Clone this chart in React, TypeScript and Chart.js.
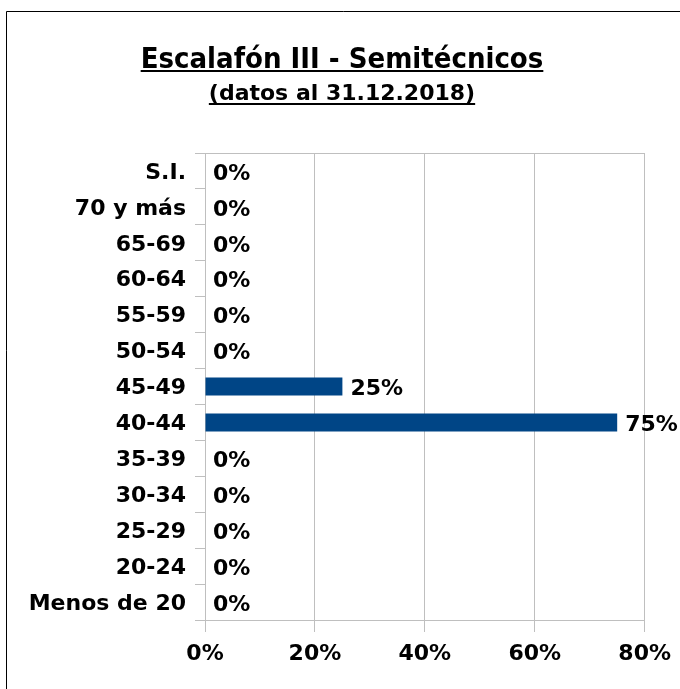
import React, { useEffect, useRef } from "react";
import { Chart, registerables } from "chart.js";

Chart.register(...registerables);

const categories = [
  "S.I.",
  "70 y más",
  "65-69",
  "60-64",
  "55-59",
  "50-54",
  "45-49",
  "40-44",
  "35-39",
  "30-34",
  "25-29",
  "20-24",
  "Menos de 20",
];
const values = [0, 0, 0, 0, 0, 0, 25, 75, 0, 0, 0, 0, 0];
const xMin = 0;
const xMax = 80;
const xStep = 20;
const titleText = "Escalafón III - Semitécnicos";
const subtitleText = "(datos al 31.12.2018)";

const GRID = "#bfbfbf";
const BAR = "#004586";
const LABEL_FONT = '"DejaVu Sans"';
const LABEL_SIZE = 22;

const decorPlugin = {
  id: "decor",
  beforeDraw(chart: any) {
    const ctx = chart.ctx;
    ctx.save();
    ctx.fillStyle = "#ffffff";
    ctx.fillRect(0, 0, chart.width, chart.height);
    ctx.strokeStyle = "#000000";
    ctx.lineWidth = 1;
    ctx.beginPath();
    ctx.moveTo(6.5, chart.height);
    ctx.lineTo(6.5, 11.5);
    ctx.lineTo(chart.width, 11.5);
    ctx.stroke();

    ctx.fillStyle = "#000000";
    ctx.textAlign = "center";
    ctx.textBaseline = "alphabetic";
    ctx.font = 'bold 29px "DejaVu Sans Condensed"';
    const cx = 342;
    let w = ctx.measureText(titleText).width;
    ctx.fillText(titleText, cx, 68);
    ctx.fillRect(cx - w / 2, 70, w, 2);

    ctx.font = `bold 22px ${LABEL_FONT}`;
    w = ctx.measureText(subtitleText).width;
    ctx.fillText(subtitleText, cx, 100);
    ctx.fillRect(cx - w / 2, 103, w, 2);
    ctx.restore();
  },
  beforeDatasetsDraw(chart: any) {
    const ctx = chart.ctx;
    const a = chart.chartArea;
    ctx.save();
    ctx.strokeStyle = GRID;
    ctx.lineWidth = 1;
    ctx.beginPath();
    ctx.moveTo(a.left, Math.round(a.top) + 0.5);
    ctx.lineTo(a.right, Math.round(a.top) + 0.5);
    ctx.stroke();
    ctx.restore();
  },
  afterDatasetsDraw(chart: any) {
    const ctx = chart.ctx;
    const meta = chart.getDatasetMeta(0);
    ctx.save();
    ctx.fillStyle = "#000000";
    ctx.font = `bold ${LABEL_SIZE}px ${LABEL_FONT}`;
    ctx.textAlign = "left";
    ctx.textBaseline = "middle";
    meta.data.forEach((bar: any, i: number) => {
      ctx.fillText(`${values[i]}%`, bar.x + 8, bar.y + 3);
    });
    ctx.restore();
  },
};

export default function App() {
  const ref = useRef<HTMLCanvasElement>(null);
  useEffect(() => {
    if (!ref.current) return;
    const chart = new Chart(ref.current, {
      type: "bar",
      data: {
        labels: categories,
        datasets: [
          {
            data: values,
            backgroundColor: BAR,
            borderWidth: 0,
            barPercentage: 0.5,
            categoryPercentage: 1,
          },
        ],
      },
      options: {
        indexAxis: "y",
        responsive: false,
        animation: false,
        devicePixelRatio: 1,
        layout: { padding: { top: 153, right: 35, left: 0, bottom: 0 } },
        plugins: {
          legend: { display: false },
          tooltip: { enabled: false },
          title: { display: false },
        },
        scales: {
          x: {
            min: xMin,
            max: xMax,
            afterFit: (s: any) => {
              s.height = 69;
            },
            ticks: {
              stepSize: xStep,
              callback: (v: any) => `${v}%`,
              color: "#000000",
              font: { family: LABEL_FONT, size: LABEL_SIZE, weight: "bold" },
              padding: 9,
              maxRotation: 0,
            },
            grid: {
              color: GRID,
              tickLength: 12,
              drawOnChartArea: true,
            },
            border: { display: true, color: GRID },
          },
          y: {
            afterFit: (s: any) => {
              s.width = 205;
            },
            ticks: {
              color: "#000000",
              font: { family: LABEL_FONT, size: LABEL_SIZE, weight: "bold" },
              padding: 9,
              labelOffset: 2,
            },
            grid: {
              color: GRID,
              tickLength: 10,
              drawOnChartArea: false,
              offset: true,
            },
            border: { display: true, color: GRID },
          },
        },
      },
      plugins: [decorPlugin],
    });
    return () => chart.destroy();
  }, []);
  return (
    <div style={{ position: "fixed", left: 0, top: 0, width: 680, height: 689 }}>
      <canvas ref={ref} width={680} height={689} style={{ width: 680, height: 689 }} />
    </div>
  );
}
